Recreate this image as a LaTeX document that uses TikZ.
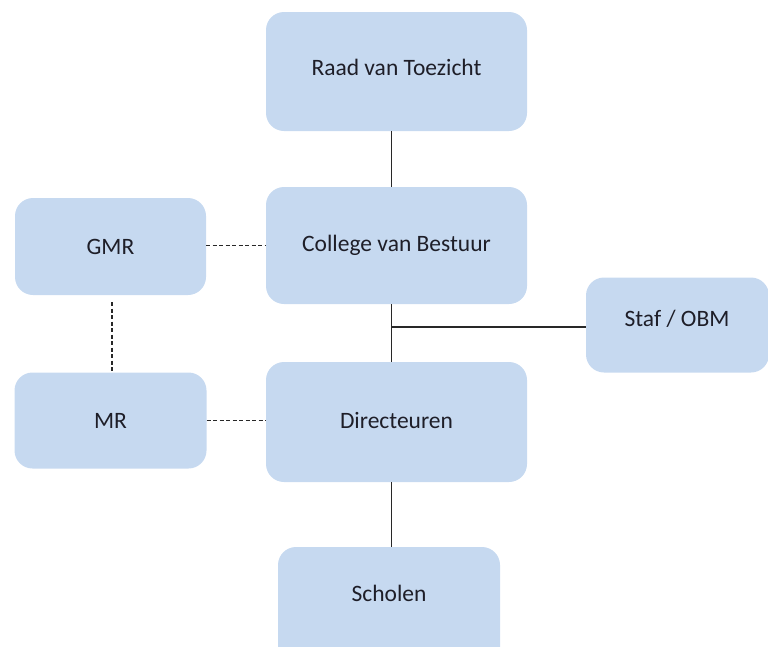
\documentclass[tikz,border=0pt]{standalone}
\usepackage{fontspec}
\setmainfont{Carlito}
\definecolor{boxblue}{RGB}{198,217,240}
\definecolor{txt}{RGB}{30,30,40}
\definecolor{ln}{RGB}{40,40,40}
\begin{document}
\begin{tikzpicture}[x=1pt,y=-1pt,
  orgbox/.style={fill=boxblue,draw=none,rounded corners=18pt,inner sep=0pt,
    font=\fontsize{23.5}{28}\selectfont,text=txt},
  solidline/.style={draw=ln,line width=1.3pt},
  dashline/.style={draw=ln,line width=1.3pt,dash pattern=on 4pt off 2.5pt}]
\useasboundingbox (0,0) rectangle (768,646);
\clip (0,0) rectangle (768,646);
\node[orgbox,minimum width=261pt,minimum height=119pt] (rvt) at (396.5,71.5) {};
\node[text=txt,font=\fontsize{23.5}{28}\selectfont] (rvtt) at (396.5,67) {Raad van Toezicht};
\node[orgbox,minimum width=261pt,minimum height=117pt] (cvb) at (396.5,245.5) {College van Bestuur};
\node[orgbox,minimum width=191pt,minimum height=97pt] (gmr) at (110.5,246.5) {GMR};
\node[orgbox,minimum width=192pt,minimum height=96pt] (mr) at (110.5,420.5) {MR};
\node[orgbox,minimum width=261pt,minimum height=120pt] (dir) at (396.5,422) {};
\node[text=txt,font=\fontsize{23.5}{28}\selectfont] (dirt) at (396.5,420) {Directeuren};
\node[orgbox,minimum width=183pt,minimum height=95pt] (staf) at (677.5,325) {};
\node[text=txt,font=\fontsize{23.5}{28}\selectfont] (staft) at (677,319) {Staf / OBM};
\node[orgbox,minimum width=222pt,minimum height=140pt] (sch) at (389,617) {};
\node[text=txt,font=\fontsize{23.5}{28}\selectfont] (scht) at (389,593) {Scholen};
\coordinate (j) at (391.5,327);
\draw[solidline] (j |- rvt.south) -- (j |- cvb.north);
\draw[solidline] (j |- cvb.south) -- (j |- dir.north);
\draw[solidline] (j) -- (j -| staf.west);
\draw[solidline] (j |- dir.south) -- (j |- sch.north);
\draw[dashline] (gmr.east |- cvb.west) -- (cvb.west);
\draw[dashline] (mr.east) -- (mr.east -| dir.west);
\coordinate (g) at (112,302);
\draw[dashline] (g) -- (g |- mr.north);
\end{tikzpicture}
\end{document}
